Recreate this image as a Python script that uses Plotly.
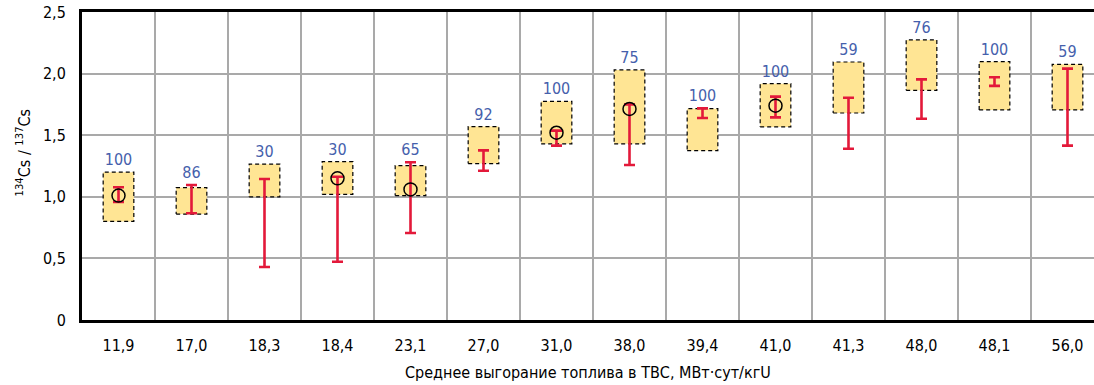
import plotly.graph_objects as go

categories = ["11,9", "17,0", "18,3", "18,4", "23,1", "27,0", "31,0",
              "38,0", "39,4", "41,0", "41,3", "48,0", "48,1", "56,0"]
box_low  = [0.80, 0.86, 1.00, 1.02, 1.01, 1.27, 1.43, 1.43, 1.375, 1.567, 1.68, 1.864, 1.705, 1.705]
box_high = [1.20, 1.075, 1.265, 1.285, 1.253, 1.57, 1.775, 2.03, 1.715, 1.918, 2.094, 2.273, 2.097, 2.075]
err_low  = [0.958, 0.866, 0.43, 0.473, 0.706, 1.212, 1.415, 1.258, 1.64, 1.645, 1.39, 1.634, 1.90, 1.415]
err_high = [1.077, 1.096, 1.144, 1.163, 1.28, 1.377, 1.537, 1.75, 1.718, 1.813, 1.804, 1.953, 1.97, 2.04]
circle   = [1.01, None, None, 1.15, 1.06, None, 1.52, 1.713, None, 1.74, None, None, None, None]
counts   = ["100", "86", "30", "30", "65", "92", "100", "75", "100", "100", "59", "76", "100", "59"]
y_ticks = [0, 0.5, 1.0, 1.5, 2.0, 2.5]
y_ticktext = ["0", "0,5", "1,0", "1,5", "2,0", "2,5"]

FONT = "DejaVu Sans Condensed, Liberation Sans Narrow, sans-serif"
YELLOW = "#FFE594"
RED = "#E3193A"
BLUE = "#4560AC"
HALF = 0.21

fig = go.Figure()
xs = list(range(len(categories)))

# boxes
for i in xs:
    lo, hi = box_low[i], box_high[i]
    fig.add_trace(go.Scatter(
        x=[i - HALF, i + HALF, i + HALF, i - HALF, i - HALF],
        y=[lo, lo, hi, hi, lo],
        mode="lines", fill="toself", fillcolor=YELLOW,
        line=dict(color="black", width=1.2, dash="4px,3px"),
        hoverinfo="skip", showlegend=False))

# error bars
mid = [(a + b) / 2 for a, b in zip(err_low, err_high)]
half = [(b - a) / 2 for a, b in zip(err_low, err_high)]
fig.add_trace(go.Scatter(
    x=xs, y=mid, mode="markers",
    marker=dict(size=1, opacity=0),
    error_y=dict(type="data", array=half, symmetric=True,
                 color=RED, thickness=2.6, width=5.5),
    showlegend=False, hoverinfo="skip"))

# circles
fig.add_trace(go.Scatter(
    x=xs, y=circle, mode="markers",
    marker=dict(symbol="circle-open", size=13, color="black", line=dict(width=1.5)),
    showlegend=False, hoverinfo="skip"))

# count labels, above the higher of box top / error-bar top
label_y = [max(a, b) for a, b in zip(box_high, err_high)]
fig.add_trace(go.Scatter(
    x=xs, y=label_y, mode="markers+text", text=counts, textposition="top center",
    marker=dict(size=3, opacity=0),
    textfont=dict(family=FONT, size=16, color=BLUE),
    showlegend=False, hoverinfo="skip"))

fig.update_layout(
    width=1094, height=385,
    margin=dict(l=82, r=0, t=12, b=65),
    paper_bgcolor="white", plot_bgcolor="white",
    font=dict(family=FONT, size=16, color="black"),
    xaxis=dict(
        range=[-0.5, 13.363], tickvals=xs, ticktext=categories,
        showgrid=False, zeroline=False,
        showline=True, linecolor="black", linewidth=3, mirror=True,
        ticks="outside", ticklen=9, tickcolor="rgba(0,0,0,0)",
        minor=dict(tickvals=[i + 0.5 for i in xs[:-1]], showgrid=True,
                   gridcolor="#A9A9A9", gridwidth=1.5, ticks=""),
        tickfont=dict(size=16)),
    yaxis=dict(
        range=[0, 2.5], tickvals=y_ticks, ticktext=y_ticktext,
        showgrid=True, gridcolor="#A9A9A9", gridwidth=1.5, zeroline=False,
        showline=True, linecolor="black", linewidth=3, mirror=False,
        ticks="outside", ticklen=10, tickcolor="rgba(0,0,0,0)",
        tickfont=dict(size=16)),
    annotations=[
        dict(text="<sup>134</sup>Cs / <sup>137</sup>Cs", xref="paper", yref="paper",
             x=-0.058, y=0.545, textangle=-90, showarrow=False,
             xanchor="center", yanchor="middle", font=dict(size=16)),
        dict(text="Среднее выгорание топлива в ТВС, МВт·сут/кгU", xref="paper", yref="paper",
             x=0.5, y=-0.17, showarrow=False, xanchor="center", yanchor="middle",
             font=dict(size=16)),
    ],
)

fig.write_html("out.html")
